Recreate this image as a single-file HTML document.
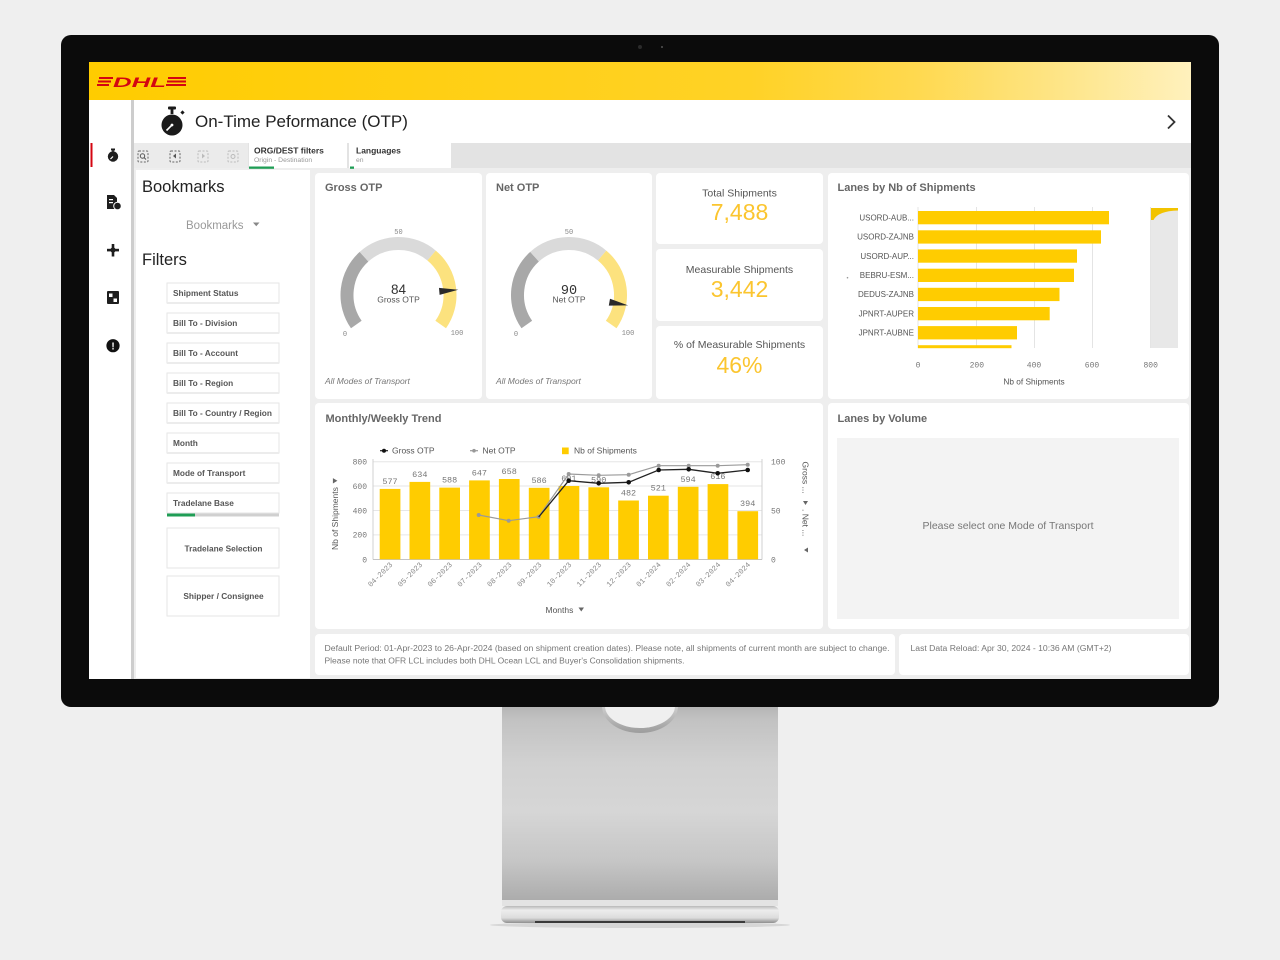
<!DOCTYPE html>
<html>
<head>
<meta charset="utf-8">
<style>
html,body{margin:0;padding:0;background:#efefef;}
svg{display:block;}
</style>
</head>
<body>
<svg xmlns="http://www.w3.org/2000/svg" width="1280" height="960" viewBox="0 0 1280 960" font-family="Liberation Sans, sans-serif">
<defs>
<linearGradient id="yel" x1="0" y1="0" x2="1" y2="0">
<stop offset="0" stop-color="#ffcc00"/>
<stop offset="0.6" stop-color="#ffd226"/>
<stop offset="0.75" stop-color="#ffd94f"/>
<stop offset="0.86" stop-color="#fee37e"/>
<stop offset="1" stop-color="#fff1bd"/>
</linearGradient>
<linearGradient id="stand" x1="0" y1="0" x2="0" y2="1">
<stop offset="0" stop-color="#b3b3b3"/>
<stop offset="0.08" stop-color="#c2c2c2"/>
<stop offset="0.3" stop-color="#d1d1d1"/>
<stop offset="0.55" stop-color="#d6d6d6"/>
<stop offset="0.8" stop-color="#c6c6c6"/>
<stop offset="1" stop-color="#acacac"/>
</linearGradient>
<linearGradient id="base" x1="0" y1="0" x2="0" y2="1">
<stop offset="0" stop-color="#b8b8b8"/>
<stop offset="0.25" stop-color="#ededed"/>
<stop offset="0.7" stop-color="#dcdcdc"/>
<stop offset="1" stop-color="#8e8e8e"/>
</linearGradient>
<linearGradient id="rim" x1="0" y1="0" x2="0" y2="1">
<stop offset="0" stop-color="#cfcfcf"/>
<stop offset="1" stop-color="#9c9c9c"/>
</linearGradient>
</defs>

<rect x="0" y="0" width="1280" height="960" fill="#efefef"/>

<!-- stand -->
<rect x="502" y="704" width="276" height="196" fill="url(#stand)"/>
<path d="M602,706 A38,27 0 0 0 678,706 Z" fill="url(#rim)"/>
<path d="M605,706 A35,22 0 0 0 675,706 Z" fill="#efefef"/>
<rect x="502" y="900" width="276" height="6" fill="#e3e3e3"/>
<ellipse cx="640" cy="925" rx="150" ry="3" fill="#d6d6d6"/>
<rect x="501" y="906" width="278" height="17" rx="6" fill="url(#base)"/>
<rect x="535" y="921" width="210" height="2" fill="#3a3a3a"/>

<!-- bezel -->
<rect x="61" y="35" width="1158" height="672" rx="10" fill="#0b0b0b"/>
<circle cx="640" cy="47" r="2" fill="#2b2b2b"/>
<circle cx="662" cy="47" r="1" fill="#555"/>

<!-- screen -->
<rect x="89" y="62" width="1102" height="617" fill="#eeeeee"/>
<rect x="89" y="62" width="1102" height="38" fill="url(#yel)"/>

<!-- DHL logo -->
<g fill="#d40511">
<rect x="99" y="77" width="14" height="2"/>
<rect x="98" y="80.5" width="13" height="2"/>
<rect x="97" y="84" width="12" height="2"/>
<rect x="168" y="77" width="18" height="2"/>
<rect x="167" y="80.5" width="19" height="2"/>
<rect x="166" y="84" width="20" height="2"/>
<text x="113" y="87" font-size="14" font-weight="bold" font-style="italic" textLength="53" lengthAdjust="spacingAndGlyphs">DHL</text>
</g>

<!-- left icon column -->
<rect x="89" y="100" width="42" height="579" fill="#ffffff"/>
<rect x="131" y="100" width="3" height="579" fill="#cdcdcd"/>
<rect x="90.5" y="143" width="2" height="24" fill="#d40511"/>
<g fill="#1e1e1e">
<circle cx="113" cy="156.5" r="5.2"/>
<rect x="111" y="148.5" width="4" height="2"/>
<rect x="112.2" y="150" width="1.6" height="2"/>
<line x1="113" y1="156.5" x2="110.5" y2="159" stroke="#fff" stroke-width="1.2"/>
<path d="M107,195 h7 l3,3 v11 h-10 z"/>
<circle cx="117.5" cy="206" r="3.8" stroke="#fff" stroke-width="1"/>
<rect x="109" y="199" width="4" height="1.2" fill="#fff"/>
<rect x="109" y="202" width="4" height="1.2" fill="#fff"/>
<rect x="107" y="248.8" width="12" height="2.6"/>
<rect x="111.7" y="244" width="2.6" height="12.5"/>
<circle cx="113" cy="250" r="2.6"/>
<rect x="107" y="291" width="12" height="13" rx="1"/>
<rect x="109" y="293.5" width="3.5" height="3.5" fill="#fff"/>
<rect x="113.5" y="298.5" width="3.5" height="3.5" fill="#fff"/>
<circle cx="113" cy="345.7" r="6.6" fill="#111"/>
</g>
<text x="113" y="349.5" font-size="10" font-weight="bold" fill="#fff" text-anchor="middle">!</text>

<!-- title row -->
<rect x="134" y="100" width="1057" height="43" fill="#ffffff"/>
<g fill="#1a1a1a">
<circle cx="172" cy="125" r="10.5"/>
<rect x="168" y="106.5" width="8" height="3" rx="1"/>
<rect x="170.6" y="109" width="2.8" height="5"/>
<rect x="181" y="111" width="3" height="3" transform="rotate(45 182.5 112.5)"/>
</g>
<line x1="172" y1="125" x2="166.5" y2="130.5" stroke="#fff" stroke-width="1.6"/>
<circle cx="172" cy="125" r="1.4" fill="#fff"/>
<text x="195" y="127" font-size="17" fill="#222">On-Time Peformance (OTP)</text>
<polyline points="1168,115.5 1174.5,122 1168,128.5" fill="none" stroke="#333" stroke-width="1.8"/>

<!-- toolbar -->
<rect x="134" y="143" width="1057" height="25" fill="#e3e3e3"/>
<rect x="134" y="143" width="114" height="25" fill="#ebebeb"/>
<g fill="none" stroke-dasharray="2,1.5" stroke-width="1">
<rect x="138" y="151" width="10" height="11" rx="1" stroke="#666"/>
<rect x="170" y="151" width="10" height="11" rx="1" stroke="#666"/>
<rect x="198" y="151" width="10" height="11" rx="1" stroke="#bbb"/>
<rect x="228" y="151" width="10" height="11" rx="1" stroke="#bbb"/>
</g>
<circle cx="142.5" cy="156" r="2.2" fill="none" stroke="#555" stroke-width="1"/>
<line x1="144" y1="157.5" x2="146" y2="159.5" stroke="#555" stroke-width="1"/>
<path d="M173,156 l3,-2.5 v5 z" fill="#555"/>
<path d="M205,156 l-3,-2.5 v5 z" fill="#bbb"/>
<circle cx="233" cy="156.5" r="2" fill="none" stroke="#bbb" stroke-width="1"/>
<rect x="249" y="143" width="98" height="25" fill="#ffffff"/>
<rect x="349" y="143" width="102" height="25" fill="#ffffff"/>
<text x="254" y="153.5" font-size="8.5" font-weight="bold" fill="#333">ORG/DEST filters</text>
<text x="254" y="162" font-size="6.8" fill="#999">Origin - Destination</text>
<text x="356" y="153.5" font-size="8.5" font-weight="bold" fill="#333">Languages</text>
<text x="356" y="162" font-size="6.8" fill="#999">en</text>
<rect x="249" y="166.5" width="25" height="2.3" fill="#1f9d55"/>
<rect x="350" y="166.5" width="4" height="2.3" fill="#1f9d55"/>

<!-- left panel -->
<rect x="136" y="170" width="174" height="508" fill="#ffffff"/>
<text x="142" y="192" font-size="16.5" fill="#222">Bookmarks</text>
<text x="186" y="229" font-size="11.5" fill="#999">Bookmarks</text>
<path d="M253,222.5 h6.5 l-3.25,3.8 z" fill="#888"/>
<text x="142" y="265" font-size="16.5" fill="#222">Filters</text>

<g font-size="8.3" font-weight="bold" fill="#555">
<rect x="167" y="283" width="112" height="20" fill="#fff" stroke="#e6e6e6"/>
<rect x="167" y="302" width="112" height="2" fill="#ececec"/>
<text x="173" y="296">Shipment Status</text>
<rect x="167" y="313" width="112" height="20" fill="#fff" stroke="#e6e6e6"/>
<rect x="167" y="332" width="112" height="2" fill="#ececec"/>
<text x="173" y="326">Bill To - Division</text>
<rect x="167" y="343" width="112" height="20" fill="#fff" stroke="#e6e6e6"/>
<rect x="167" y="362" width="112" height="2" fill="#ececec"/>
<text x="173" y="356">Bill To - Account</text>
<rect x="167" y="373" width="112" height="20" fill="#fff" stroke="#e6e6e6"/>
<rect x="167" y="392" width="112" height="2" fill="#ececec"/>
<text x="173" y="386">Bill To - Region</text>
<rect x="167" y="403" width="112" height="20" fill="#fff" stroke="#e6e6e6"/>
<rect x="167" y="422" width="112" height="2" fill="#ececec"/>
<text x="173" y="416">Bill To - Country / Region</text>
<rect x="167" y="433" width="112" height="20" fill="#fff" stroke="#e6e6e6"/>
<rect x="167" y="452" width="112" height="2" fill="#ececec"/>
<text x="173" y="446">Month</text>
<rect x="167" y="463" width="112" height="20" fill="#fff" stroke="#e6e6e6"/>
<rect x="167" y="482" width="112" height="2" fill="#ececec"/>
<text x="173" y="476">Mode of Transport</text>
<rect x="167" y="493" width="112" height="20" fill="#fff" stroke="#e6e6e6"/>
<text x="173" y="506">Tradelane Base</text>
<rect x="167" y="513.5" width="112" height="3" fill="#d0d0d0"/>
<rect x="167" y="513.5" width="28" height="3" fill="#1f9d55"/>
<rect x="167" y="528" width="112" height="40" fill="#fff" stroke="#e6e6e6"/>
<text x="223.5" y="551.5" text-anchor="middle">Tradelane Selection</text>
<rect x="167" y="576" width="112" height="40" fill="#fff" stroke="#e6e6e6"/>
<text x="223.5" y="599" text-anchor="middle">Shipper / Consignee</text>
</g>

<!-- panels -->
<g fill="#ffffff">
<rect x="315" y="173" width="167" height="226" rx="4"/>
<rect x="486" y="173" width="166" height="226" rx="4"/>
<rect x="656" y="173" width="167" height="71" rx="4"/>
<rect x="656" y="249" width="167" height="72" rx="4"/>
<rect x="656" y="326" width="167" height="73" rx="4"/>
<rect x="828" y="173" width="361" height="226" rx="4"/>
<rect x="315" y="403" width="508" height="226" rx="4"/>
<rect x="828" y="403" width="361" height="226" rx="4"/>
<rect x="315" y="634" width="580" height="41" rx="4"/>
<rect x="899" y="634" width="290" height="41" rx="4"/>
</g>

<!-- Gross OTP gauge -->
<text x="325" y="191" font-size="11" font-weight="bold" fill="#666">Gross OTP</text>
<g fill="none" stroke-width="13">
<path d="M356.31,324.54 A51.5,51.5 0 0 1 364.04,256.73" stroke="#a8a8a8"/>
<path d="M364.04,256.73 A51.5,51.5 0 0 1 431.60,255.55" stroke="#dadada"/>
<path d="M431.60,255.55 A51.5,51.5 0 0 1 440.69,324.54" stroke="#fce27e"/>
</g>
<polygon points="439.6,294.9 439.0,287.9 458.3,289.8" fill="#2a2a2a"/>
<g font-family="Liberation Mono, monospace" font-size="7" fill="#888" text-anchor="middle">
<text x="398.5" y="234">50</text>
<text x="345" y="336">0</text>
<text x="457" y="335">100</text>
</g>
<text x="398.5" y="294" font-size="13.5" fill="#333" text-anchor="middle">84</text>
<text x="398.5" y="302.5" font-size="8.5" fill="#555" text-anchor="middle">Gross OTP</text>
<text x="325" y="384" font-size="8.5" font-style="italic" fill="#777">All Modes of Transport</text>

<!-- Net OTP gauge -->
<text x="496" y="191" font-size="11" font-weight="bold" fill="#666">Net OTP</text>
<g fill="none" stroke-width="13">
<path d="M526.81,324.54 A51.5,51.5 0 0 1 534.54,256.73" stroke="#a8a8a8"/>
<path d="M534.54,256.73 A51.5,51.5 0 0 1 602.10,255.55" stroke="#dadada"/>
<path d="M602.10,255.55 A51.5,51.5 0 0 1 611.19,324.54" stroke="#fce27e"/>
</g>
<polygon points="608.8,305.6 610.0,298.7 628.1,305.4" fill="#2a2a2a"/>
<g font-family="Liberation Mono, monospace" font-size="7" fill="#888" text-anchor="middle">
<text x="569" y="234">50</text>
<text x="516" y="336">0</text>
<text x="628" y="335">100</text>
</g>
<text x="569" y="294" font-family="Liberation Mono, monospace" font-size="13.5" fill="#333" text-anchor="middle">90</text>
<text x="569" y="302.5" font-size="8.5" fill="#555" text-anchor="middle">Net OTP</text>
<text x="496" y="384" font-size="8.5" font-style="italic" fill="#777">All Modes of Transport</text>

<!-- KPIs -->
<g text-anchor="middle">
<text x="739.5" y="196.5" font-size="10.5" fill="#555">Total Shipments</text>
<text x="739.5" y="220" font-size="23" fill="#fbc52f">7,488</text>
<text x="739.5" y="273" font-size="10.5" fill="#555">Measurable Shipments</text>
<text x="739.5" y="297" font-size="23" fill="#fbc52f">3,442</text>
<text x="739.5" y="348" font-size="10.5" fill="#555">% of Measurable Shipments</text>
<text x="739.5" y="373" font-size="23" fill="#fbc52f">46%</text>
</g>

<!-- Lanes by Nb of Shipments -->
<text x="837.5" y="191" font-size="11" font-weight="bold" fill="#666">Lanes by Nb of Shipments</text>
<g stroke="#e4e4e4" stroke-width="1">
<line x1="918" y1="207" x2="918" y2="348"/>
<line x1="976.5" y1="207" x2="976.5" y2="348"/>
<line x1="1034.5" y1="207" x2="1034.5" y2="348"/>
<line x1="1092.5" y1="207" x2="1092.5" y2="348"/>
<line x1="1150.5" y1="207" x2="1150.5" y2="348"/>
</g>
<g fill="#ffcc00">
<rect x="918" y="211" width="191" height="13.3"/>
<rect x="918" y="230.3" width="183" height="13.3"/>
<rect x="918" y="249.4" width="159" height="13.3"/>
<rect x="918" y="268.7" width="156" height="13.3"/>
<rect x="918" y="287.8" width="141.5" height="13.3"/>
<rect x="918" y="307" width="131.7" height="13.3"/>
<rect x="918" y="326.1" width="99" height="13.3"/>
<rect x="918" y="345.2" width="93.5" height="3"/>
</g>
<g font-size="8" fill="#555" text-anchor="end">
<text x="914" y="220.5">USORD-AUB...</text>
<text x="914" y="239.7">USORD-ZAJNB</text>
<text x="914" y="258.8">USORD-AUP...</text>
<text x="914" y="278.1">BEBRU-ESM...</text>
<text x="914" y="297.2">DEDUS-ZAJNB</text>
<text x="914" y="316.4">JPNRT-AUPER</text>
<text x="914" y="335.5">JPNRT-AUBNE</text>
</g>
<circle cx="847.5" cy="277.7" r="0.8" fill="#999"/>
<rect x="1151" y="208" width="27" height="140" fill="#e8e8e8"/>
<path d="M1151,208 L1178,208 L1178,210.5 Q1158,211 1153.5,220 L1151,220 Z" fill="#f2c300"/>
<g font-family="Liberation Mono, monospace" font-size="8" fill="#777" text-anchor="middle">
<text x="918" y="367.5">0</text>
<text x="976.8" y="367.5">200</text>
<text x="1034" y="367.5">400</text>
<text x="1092" y="367.5">600</text>
<text x="1150.7" y="367.5">800</text>
</g>
<text x="1034" y="384.5" font-size="8.3" fill="#555" text-anchor="middle">Nb of Shipments</text>

<!-- Monthly/Weekly trend -->
<text x="325.5" y="422" font-size="11" font-weight="bold" fill="#666">Monthly/Weekly Trend</text>
<line x1="380" y1="450.7" x2="388" y2="450.7" stroke="#222" stroke-width="1.2"/>
<circle cx="384" cy="450.7" r="2" fill="#111"/>
<text x="392" y="453.7" font-size="8.5" fill="#555">Gross OTP</text>
<line x1="470" y1="450.7" x2="478" y2="450.7" stroke="#999" stroke-width="1.2"/>
<circle cx="474" cy="450.7" r="1.8" fill="#999"/>
<text x="482.5" y="453.7" font-size="8.5" fill="#555">Net OTP</text>
<rect x="562" y="447.5" width="6.7" height="6.7" fill="#ffcc00"/>
<text x="574" y="453.7" font-size="8.5" fill="#555">Nb of Shipments</text>
<g stroke="#e6e6e6" stroke-width="1">
<line x1="373" y1="461.7" x2="762" y2="461.7"/>
<line x1="373" y1="486" x2="762" y2="486"/>
<line x1="373" y1="510.5" x2="762" y2="510.5"/>
<line x1="373" y1="534.9" x2="762" y2="534.9"/>
</g>
<line x1="373" y1="459" x2="373" y2="559.5" stroke="#d0d0d0" stroke-width="1"/>
<line x1="762" y1="459" x2="762" y2="559.5" stroke="#d0d0d0" stroke-width="1"/>
<line x1="373" y1="559.5" x2="762" y2="559.5" stroke="#c4c4c4" stroke-width="1"/>
<g font-family="Liberation Mono, monospace" font-size="8" fill="#777" text-anchor="end">
<text x="367" y="464.5">800</text>
<text x="367" y="488.8">600</text>
<text x="367" y="513.3">400</text>
<text x="367" y="537.7">200</text>
<text x="367" y="562.3">0</text>
</g>
<g font-family="Liberation Mono, monospace" font-size="8" fill="#777">
<text x="771" y="464.5">100</text>
<text x="771" y="513.3">50</text>
<text x="771" y="562.3">0</text>
</g>
<g fill="#ffcc00">
<rect x="379.7" y="488.9" width="20.7" height="70.4"/>
<rect x="409.5" y="481.9" width="20.7" height="77.4"/>
<rect x="439.3" y="487.6" width="20.7" height="71.7"/>
<rect x="469.1" y="480.4" width="20.7" height="78.9"/>
<rect x="498.9" y="479.0" width="20.7" height="80.3"/>
<rect x="528.8" y="487.8" width="20.7" height="71.5"/>
<rect x="558.6" y="486.0" width="20.7" height="73.3"/>
<rect x="588.4" y="487.3" width="20.7" height="72.0"/>
<rect x="618.2" y="500.5" width="20.7" height="58.8"/>
<rect x="648.0" y="495.7" width="20.7" height="63.6"/>
<rect x="677.8" y="486.8" width="20.7" height="72.5"/>
<rect x="707.6" y="484.1" width="20.7" height="75.2"/>
<rect x="737.4" y="511.2" width="20.7" height="48.1"/>
</g>
<g font-family="Liberation Mono, monospace" font-size="8.5" fill="#777" text-anchor="middle">
<text x="390.0" y="483.9">577</text>
<text x="419.8" y="476.9">634</text>
<text x="449.6" y="482.6">588</text>
<text x="479.4" y="475.4">647</text>
<text x="509.2" y="474.0">658</text>
<text x="539.1" y="482.8">586</text>
<text x="568.9" y="481.0">601</text>
<text x="598.7" y="482.3">590</text>
<text x="628.5" y="495.5">482</text>
<text x="658.3" y="490.7">521</text>
<text x="688.1" y="481.8">594</text>
<text x="717.9" y="479.1">616</text>
<text x="747.7" y="506.2">394</text>
</g>
<polyline points="478.7,515 508.7,520.7 538.7,516.7 568.7,474 598.7,475.3 628.7,474.7 658.7,465.7 688.7,465.7 717.7,465.7 747.7,464.7" fill="none" stroke="#9a9a9a" stroke-width="1.2"/>
<g fill="#9a9a9a">
<circle cx="478.7" cy="515" r="2"/><circle cx="508.7" cy="520.7" r="2"/><circle cx="538.7" cy="516.7" r="2"/>
<circle cx="568.7" cy="474" r="2"/><circle cx="598.7" cy="475.3" r="2"/><circle cx="628.7" cy="474.7" r="2"/>
<circle cx="658.7" cy="465.7" r="2"/><circle cx="688.7" cy="465.7" r="2"/><circle cx="717.7" cy="465.7" r="2"/><circle cx="747.7" cy="464.7" r="2"/>
</g>
<polyline points="538.7,517 568.7,480.7 598.7,483.3 628.7,482.3 658.7,470 688.7,469.3 717.7,473.3 747.7,470" fill="none" stroke="#222" stroke-width="1.3"/>
<g fill="#111">
<circle cx="568.7" cy="480.7" r="2.3"/><circle cx="598.7" cy="483.3" r="2.3"/><circle cx="628.7" cy="482.3" r="2.3"/>
<circle cx="658.7" cy="470" r="2.3"/><circle cx="688.7" cy="469.3" r="2.3"/><circle cx="717.7" cy="473.3" r="2.3"/><circle cx="747.7" cy="470" r="2.3"/>
</g>
<g font-family="Liberation Mono, monospace" font-size="7.5" fill="#888" text-anchor="end">
<text transform="translate(393,565) rotate(-45)">04-2023</text>
<text transform="translate(422.8,565) rotate(-45)">05-2023</text>
<text transform="translate(452.6,565) rotate(-45)">06-2023</text>
<text transform="translate(482.4,565) rotate(-45)">07-2023</text>
<text transform="translate(512.2,565) rotate(-45)">08-2023</text>
<text transform="translate(542.1,565) rotate(-45)">09-2023</text>
<text transform="translate(571.9,565) rotate(-45)">10-2023</text>
<text transform="translate(601.7,565) rotate(-45)">11-2023</text>
<text transform="translate(631.5,565) rotate(-45)">12-2023</text>
<text transform="translate(661.3,565) rotate(-45)">01-2024</text>
<text transform="translate(691.1,565) rotate(-45)">02-2024</text>
<text transform="translate(720.9,565) rotate(-45)">03-2024</text>
<text transform="translate(750.7,565) rotate(-45)">04-2024</text>
</g>
<text transform="translate(338,550) rotate(-90)" font-size="8.5" fill="#555">Nb of Shipments</text>
<path d="M332.5,478.5 l2.7,4.5 l2.7,-4.5 z" transform="rotate(-90 335.2 480.8)" fill="#666"/>
<text transform="translate(802.5,461.5) rotate(90)" font-size="8.5" fill="#555">Gross ...</text>
<path d="M803,501 h5 l-2.5,4 z" fill="#666"/>
<text transform="translate(802.5,509) rotate(90)" font-size="8.5" fill="#555">. Net ...</text>
<path d="M808,547.5 v5 l-4,-2.5 z" fill="#666"/>
<text x="545.5" y="613" font-size="8.5" fill="#555">Months</text>
<path d="M578.5,607.5 h5.5 l-2.75,4 z" fill="#666"/>

<!-- Lanes by Volume -->
<text x="837.5" y="422" font-size="11" font-weight="bold" fill="#666">Lanes by Volume</text>
<rect x="837" y="438" width="342" height="181" fill="#f3f3f3"/>
<text x="1008" y="529" font-size="10.5" fill="#777" text-anchor="middle">Please select one Mode of Transport</text>

<!-- footer -->
<text x="324.5" y="651" font-size="8" fill="#777" textLength="565" lengthAdjust="spacingAndGlyphs">Default Period: 01-Apr-2023 to 26-Apr-2024 (based on shipment creation dates). Please note, all shipments of current month are subject to change.</text>
<text x="324.5" y="663.5" font-size="8" fill="#777" textLength="360" lengthAdjust="spacingAndGlyphs">Please note that OFR LCL includes both DHL Ocean LCL and Buyer's Consolidation shipments.</text>
<text x="910.5" y="651" font-size="8" fill="#777" textLength="201" lengthAdjust="spacingAndGlyphs">Last Data Reload: Apr 30, 2024 - 10:36 AM (GMT+2)</text>
</svg>
</body>
</html>
